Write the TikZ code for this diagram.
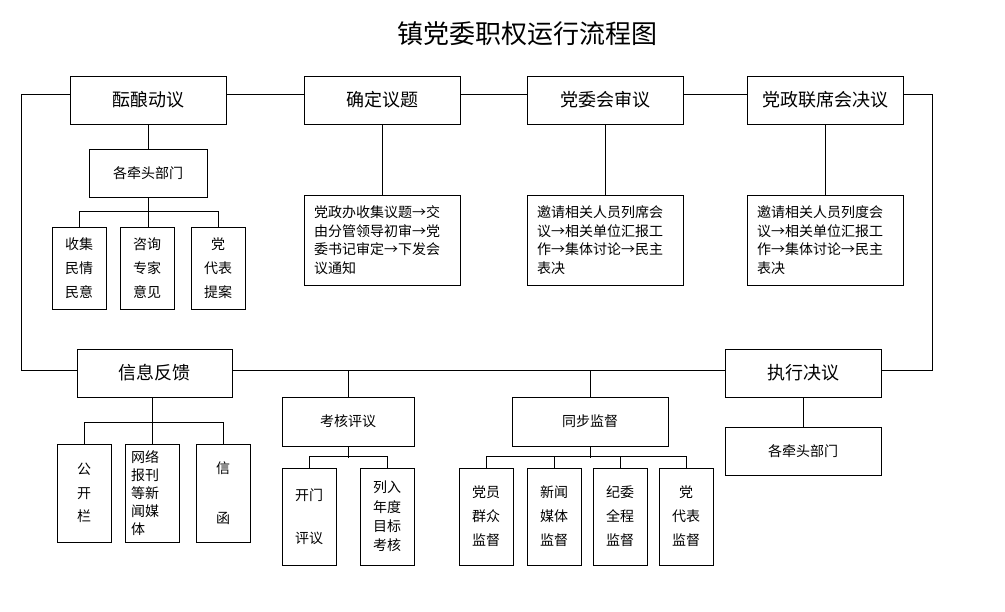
\documentclass[tikz,border=0pt]{standalone}
\usepackage{fontspec}
\setmainfont{Noto Sans CJK SC}
\begin{document}
\begin{tikzpicture}[x=0.75pt,y=-0.75pt,
  every path/.style={line width=0.75pt},
  box/.style={draw, line width=0.75pt, inner sep=0pt, align=center},
  wh/.style 2 args={minimum width=#1*0.75pt, minimum height=#2*0.75pt},
  hdr/.style={box, wh={156}{48}, font=\fontsize{13.5}{16}\selectfont},
  sub/.style={box, font=\fontsize{10.5}{14}\selectfont},
  txt/.style={box, wh={156}{90}, text width=102pt, align=left, font=\fontsize{10.5}{14}\selectfont},
  col/.style 2 args={sub, wh={54}{#1}, font=\fontsize{10.5}{#2}\selectfont}
]
\useasboundingbox (0,0) rectangle (1005,611);

% title
\node[font=\fontsize{19.5}{22}\selectfont] (title) at (527,34) {镇党委职权运行流程图};

% top row
\node[hdr] (n1) at (148,100) {酝酿动议};
\node[hdr] (n2) at (382,100) {确定议题};
\node[hdr] (n3) at (605,100) {党委会审议};
\node[hdr] (n4) at (825,100) {党政联席会决议};

% bottom main row
\node[hdr, wh={155}{48}] (f) at (154.5,373) {信息反馈};
\node[hdr] (e) at (803,373) {执行决议};

\coordinate (tl) at (21,94);
\coordinate (tr) at (932,94);
\coordinate (bl) at (21,370);
\coordinate (br) at (932,370);

\draw (tl) -- ([yshift=4.5pt]n1.west);
\draw ([yshift=4.5pt]n1.east) -- ([yshift=4.5pt]n2.west);
\draw ([yshift=4.5pt]n2.east) -- ([yshift=4.5pt]n3.west);
\draw ([yshift=4.5pt]n3.east) -- ([yshift=4.5pt]n4.west);
\draw ([yshift=4.5pt]n4.east) -- (tr) -- (br) -- ([yshift=2.25pt]e.east);
\draw (tl) -- (bl) -- ([yshift=2.25pt]f.west);
\draw ([yshift=2.25pt]f.east) -- ([yshift=2.25pt]e.west);

% 酝酿动议 branch
\node[sub, wh={118}{48}] (d1) at (148,173) {各牵头部门};
\node[col={82}{18}] (a1) at (79,268) {收集\\民情\\民意};
\node[col={82}{18}] (a2) at (147,268) {咨询\\专家\\意见};
\node[col={82}{18}] (a3) at (218,268) {党\\代表\\提案};
\draw (n1.south) -- (d1.north);
\draw (d1.south) -- (d1.south |- a2.north);
\draw (a1.north) -- ++(0,-15) -| (a3.north);

% text boxes
\node[txt] (t2) at (382,240) {党政办收集议题→交\\由分管领导初审→党\\委书记审定→下发会\\议通知};
\node[txt] (t3) at (605,240) {邀请相关人员列席会\\议→相关单位汇报工\\作→集体讨论→民主\\表决};
\node[txt] (t4) at (825,240) {邀请相关人员列度会\\议→相关单位汇报工\\作→集体讨论→民主\\表决};
\draw (n2.south) -- (t2.north);
\draw (n3.south) -- (t3.north);
\draw (n4.south) -- (t4.north);

% 信息反馈 branch
\node[col={98}{18}] (b1) at (84,493) {\raisebox{3.75pt}{\parbox[c]{2em}{\centering\fontsize{10.5}{17.6}\selectfont 公\\开\\栏}}};
\node[sub, wh={54}{98}, text width=31.5pt, align=left, font=\fontsize{10.5}{13.5}\selectfont] (b2) at (152,493) {网络\\报刊\\等新\\闻媒\\体};
\node[col={98}{18}] (b3) at (223,493) {\raisebox{3.75pt}{\parbox[c]{2em}{\centering\fontsize{10.5}{37.5}\selectfont 信\\函}}};
\draw (f.south -| b2.north) -- (b2.north);
\draw (b1.north) -- ++(0,-21) -| (b3.north);

% 考核评议 branch
\node[sub, wh={132}{49}] (k) at (348,421.5) {考核评议};
\node[col={97}{32}] (k1) at (309,516.5) {开门\\评议};
\node[col={97}{14.5}] (k2) at (387,516.5) {列入\\年度\\目标\\考核};
\draw (k.north) -- (k.north |- bl);
\draw (k.south) -- ++(0,11);
\draw (k1.north) -- ++(0,-11) -| (k2.north);

% 同步监督 branch
\node[sub, wh={156}{49}] (s) at (590,421.5) {同步监督};
\node[col={97}{18}] (s1) at (486,516.5) {党员\\群众\\监督};
\node[col={97}{18}] (s2) at (554,516.5) {新闻\\媒体\\监督};
\node[col={97}{18}] (s3) at (620,516.5) {纪委\\全程\\监督};
\node[col={97}{18}] (s4) at (686,516.5) {党\\代表\\监督};
\draw (s.north) -- (s.north |- bl);
\draw (s.south) -- ++(0,11);
\draw (s1.north) -- ++(0,-11) -| (s4.north);
\draw (s2.north) -- ++(0,-11);
\draw (s3.north) -- ++(0,-11);

% 执行决议 branch
\node[hdr, font=\fontsize{10.5}{14}\selectfont] (e1) at (803,451) {各牵头部门};
\draw (e.south) -- (e1.north);
\end{tikzpicture}
\end{document}
